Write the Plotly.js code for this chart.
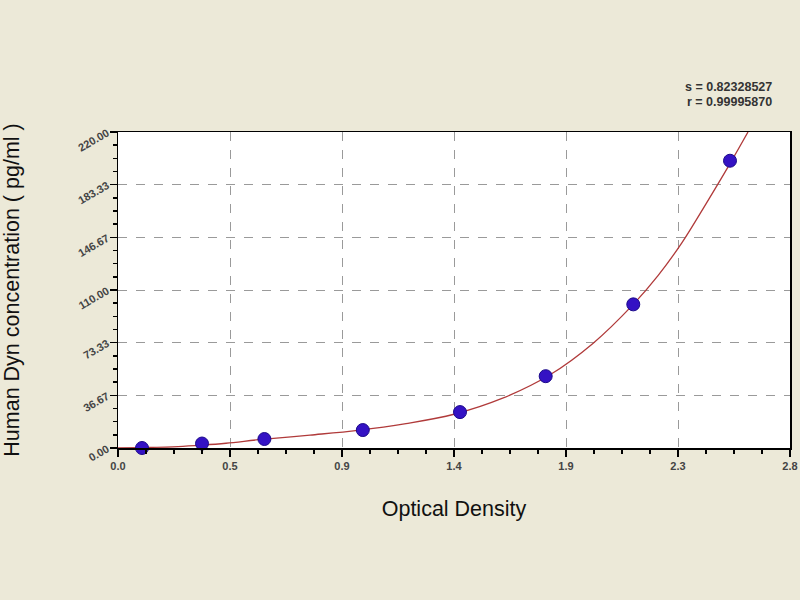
<!DOCTYPE html>
<html>
<head>
<meta charset="utf-8">
<script src="https://cdn.plot.ly/plotly-3.0.1.min.js"></script>
<style>html,body{margin:0;padding:0;background:#ece9d8;}#chart{width:800px;height:600px;}</style>
</head>
<body>
<div id="chart"></div>
<script>
// Standard points (OD vs concentration)
var odValues = [0.10, 0.35, 0.61, 1.02, 1.425, 1.782, 2.147, 2.55];
var concValues = [0, 3.12, 6.25, 12.5, 25, 50, 100, 200];

// Fitted curve
var curveOD = [0.0, 0.10, 0.25, 0.35, 0.45, 0.60, 0.80, 1.00, 1.20, 1.40, 1.60, 1.80, 1.98, 2.147, 2.25, 2.35, 2.45, 2.55, 2.625];
var curveConc = [0, 0.3, 1.0, 2.0, 3.3, 6.0, 9.0, 12.3, 17.0, 23.5, 34.5, 51, 73, 100, 120, 143, 170, 198, 220];

// Axis ticks
var xTickVals = [0, 2.8/6, 2*2.8/6, 3*2.8/6, 4*2.8/6, 5*2.8/6, 2.8];
var xTickText = ["0.0", "0.5", "0.9", "1.4", "1.9", "2.3", "2.8"];
var yTickVals = [0, 220/6, 2*220/6, 3*220/6, 4*220/6, 5*220/6, 220];
var yTickText = ["0.00", "36.67", "73.33", "110.00", "146.67", "183.33", "220.00"];

var statLines = ["s = 0.82328527", "r = 0.99995870"];

var curve = {
  x: curveOD, y: curveConc, type: 'scatter', mode: 'lines',
  line: {color: '#b03a3a', width: 1.3, shape: 'spline', smoothing: 1},
  hoverinfo: 'skip', showlegend: false
};
var pts = {
  x: odValues, y: concValues, type: 'scatter', mode: 'markers',
  marker: {color: '#3412c4', size: 13, line: {color: '#1c0a8a', width: 1}},
  showlegend: false, cliponaxis: false
};

var fam = 'Liberation Sans, Arial, sans-serif';
var tickFont = {family: fam, size: 11, color: '#444', weight: 'bold'};

var layout = {
  width: 800, height: 600,
  paper_bgcolor: '#ece9d8', plot_bgcolor: '#ffffff',
  margin: {l: 118, r: 10, t: 132, b: 152},
  showlegend: false,
  xaxis: {
    range: [0, 2.8], tickmode: 'array', tickvals: xTickVals, ticktext: xTickText,
    ticks: 'outside', ticklen: 7, tickwidth: 1.5, tickcolor: '#000',
    showline: true, linecolor: '#000', linewidth: 1.5, mirror: true,
    showgrid: true, gridcolor: '#9a9a9a', gridwidth: 1, griddash: 'dash',
    zeroline: false, tickfont: tickFont,
    minor: {tickmode: 'linear', tick0: 0, dtick: 2.8/24, ticks: 'outside', ticklen: 4, tickwidth: 1.5, tickcolor: '#000', showgrid: false},
    title: {text: 'Optical Density', font: {family: fam, size: 21.5, color: '#111'}, standoff: 30}
  },
  yaxis: {
    range: [0, 220], tickmode: 'array', tickvals: yTickVals, ticktext: yTickText,
    ticks: 'outside', ticklen: 7, tickwidth: 1.5, tickcolor: '#000', tickangle: -30,
    showline: true, linecolor: '#000', linewidth: 1.5, mirror: true,
    showgrid: true, gridcolor: '#9a9a9a', gridwidth: 1, griddash: 'dash',
    zeroline: false, tickfont: tickFont,
    minor: {tickmode: 'linear', tick0: 0, dtick: 220/24, ticks: 'outside', ticklen: 4, tickwidth: 1.5, tickcolor: '#000', showgrid: false},
    title: {text: 'Human Dyn concentration ( pg/ml )', font: {family: fam, size: 21.5, color: '#111'}, standoff: 50}
  },
  annotations: [
    {xref: 'paper', yref: 'paper', x: 1.0, y: 1, xanchor: 'right', yanchor: 'bottom', xshift: -16, yshift: 36,
     text: '<b>' + statLines[0] + '</b>', showarrow: false, font: {family: fam, size: 12.5, color: '#333'}},
    {xref: 'paper', yref: 'paper', x: 1.0, y: 1, xanchor: 'right', yanchor: 'bottom', xshift: -16, yshift: 21,
     text: '<b>' + statLines[1] + '</b>', showarrow: false, font: {family: fam, size: 12.5, color: '#333'}}
  ]
};

Plotly.newPlot('chart', [curve, pts], layout, {displayModeBar: false, staticPlot: true});
</script>
</body>
</html>
